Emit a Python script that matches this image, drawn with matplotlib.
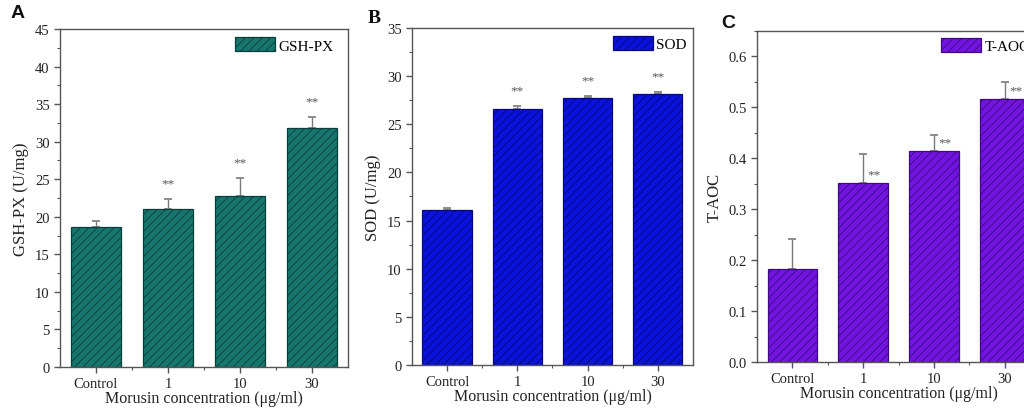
from __future__ import annotations

import matplotlib

matplotlib.use("Agg")
import matplotlib.pyplot as plt
from matplotlib.patches import Patch
from matplotlib.ticker import MultipleLocator, FixedLocator


CATEGORIES = ["Control", "1", "10", "30"]

GSH_MEAN = [18.6, 21.05, 22.75, 31.8]
GSH_ERR = [0.8, 1.35, 2.35, 1.5]

SOD_MEAN = [16.05, 26.55, 27.7, 28.1]
SOD_ERR = [0.25, 0.3, 0.2, 0.25]

TAOC_MEAN = [0.182, 0.352, 0.414, 0.516]
TAOC_ERR = [0.059, 0.056, 0.032, 0.034]

SIGNIF = ["", "**", "**", "**"]

XLABEL = "Morusin concentration (\u03bcg/ml)"

plt.rcParams["font.family"] = ["Liberation Serif", "DejaVu Serif"]
plt.rcParams["hatch.linewidth"] = 0.6
plt.rcParams["axes.linewidth"] = 1.0


def style_axes(ax, ymax, major, minor):
    ax.set_xlim(-0.5, 3.5)
    ax.set_ylim(0, ymax)
    ax.yaxis.set_major_locator(MultipleLocator(major))
    ax.yaxis.set_minor_locator(MultipleLocator(minor))
    ax.set_xticks(range(len(CATEGORIES)))
    ax.set_xticklabels(CATEGORIES)
    ax.xaxis.set_minor_locator(FixedLocator([0.5, 1.5, 2.5]))
    for s in ax.spines.values():
        s.set_color("#555555")
    ax.tick_params(which="major", direction="out", length=4, width=1,
                   color="#555555", labelsize=10.5, labelcolor="#222222")
    ax.tick_params(which="minor", direction="out", length=2.5, width=0.8,
                   color="#555555")
    ax.tick_params(axis="x", which="major", pad=3)
    ax.set_xlabel(XLABEL, fontsize=11.5, color="#222222", labelpad=0)


def draw_panel(ax, means, errs, face, hatch_col, label, ymax, major, minor,
               star_mode, legend_anchor):
    x = list(range(len(means)))
    ax.bar(x, means, width=0.7, color=face, edgecolor=hatch_col,
           hatch="////", linewidth=0.9, zorder=2)
    ax.errorbar(x, means, yerr=[[0] * len(errs), errs], fmt="none",
                ecolor="#7a7a7a", elinewidth=1.0, capsize=3, capthick=1.2,
                zorder=1.5)
    for xi, m, e, s in zip(x, means, errs, SIGNIF):
        if not s:
            continue
        if star_mode == "above":
            ax.annotate(s, (xi, m + e), xytext=(0, 7), textcoords="offset points",
                        ha="center", va="bottom", fontsize=9.5, color="#555555")
        else:
            ax.annotate(s, (xi, m), xytext=(3, 2), textcoords="offset points",
                        ha="left", va="bottom", fontsize=9.5, color="#555555")
    style_axes(ax, ymax, major, minor)
    ax.set_ylabel(label, fontsize=12, color="#222222")
    handle = Patch(facecolor=face, edgecolor=hatch_col, hatch="////", linewidth=0.9)
    name = label.split(" ")[0]
    ax.legend([handle], [name], loc="upper left", bbox_to_anchor=legend_anchor,
              frameon=False, fontsize=11, borderpad=0, borderaxespad=0,
              handlelength=2.6, handleheight=1.0, handletextpad=0.25)


def main() -> None:
    fig = plt.figure(figsize=(10.24, 4.10), dpi=100)

    ax_a = fig.add_axes([0.0586, 0.1024, 0.2813, 0.8244])
    ax_b = fig.add_axes([0.4023, 0.1073, 0.2744, 0.8220])
    ax_c = fig.add_axes([0.7393, 0.1146, 0.2764, 0.8073])

    draw_panel(ax_a, GSH_MEAN, GSH_ERR, "#16766f", "#0c3f3b", "GSH-PX (U/mg)",
               45, 5, 2.5, "above", (0.608, 0.975))
    draw_panel(ax_b, SOD_MEAN, SOD_ERR, "#0a12dc", "#06087a", "SOD (U/mg)",
               35, 5, 2.5, "above", (0.715, 0.975))
    draw_panel(ax_c, TAOC_MEAN, TAOC_ERR, "#7214e0", "#3e0a80", "T-AOC",
               0.65, 0.1, 0.05, "right", (0.65, 0.978))
    ax_c.yaxis.set_major_formatter(plt.FuncFormatter(lambda v, p: f"{v:.1f}"))

    fig.text(0.010, 0.955, "A", family="Liberation Sans", fontweight="bold",
             fontsize=14, color="#111111")
    fig.text(0.359, 0.945, "B", family="Liberation Serif", fontweight="bold",
             fontsize=14, color="#111111")
    fig.text(0.704, 0.932, "C", family="Liberation Sans", fontweight="bold",
             fontsize=14, color="#111111")

    fig.savefig("out.png", dpi=100)
    plt.close(fig)


if __name__ == "__main__":
    main()
